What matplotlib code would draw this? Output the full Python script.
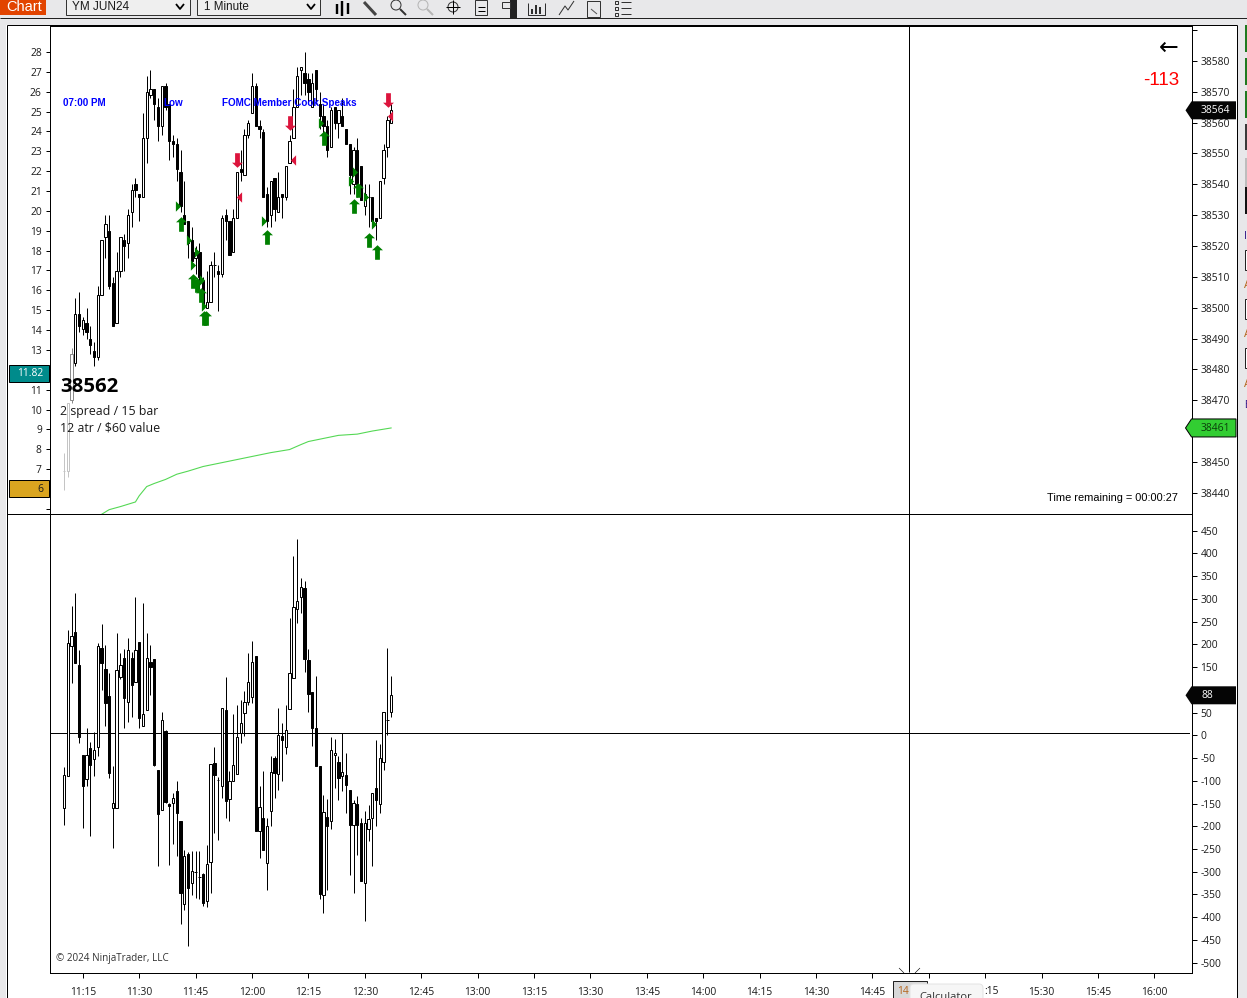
import numpy as np
import matplotlib
matplotlib.use('Agg')
import matplotlib.pyplot as plt
from matplotlib.path import Path
from matplotlib.patches import Rectangle, Polygon, Circle, FancyBboxPatch

W, H = 1247, 998
BASE = 38000

# price bars (last three digits, BASE added below)
price_high = [453,469,487,503,505,497,500,494,489,507,522,530,530,510,518,523,524,532,540,542,537,563,575,577,571,568,572,573,566,556,555,551,541,528,526,520,521,510,512,515,518,514,530,532,528,532,544,551,558,561,576,573,561,558,539,541,542,544,537,546,556,571,578,578,583,576,576,577,570,566,561,565,565,564,568,558,553,552,555,546,540,540,536,529,541,553,562,566]
price_top = [447,469,485,498,498,496,495,490,486,504,522,527,525,508,512,523,522,530,538,540,537,555,570,571,571,565,572,572,566,554,553,544,530,528,522,518,518,509,502,514,514,512,529,530,528,529,544,545,556,560,572,572,559,557,537,541,542,536,537,546,554,565,575,578,576,574,573,577,566,562,559,564,565,564,562,558,553,551,551,546,537,536,536,529,541,551,561,564]
price_bot = [447,447,470,482,494,493,492,488,484,484,504,523,507,494,495,512,520,521,531,538,536,536,555,569,566,559,559,565,554,553,545,533,527,521,515,516,510,501,500,502,514,511,511,528,517,518,529,544,543,556,563,559,558,536,528,530,532,531,536,536,547,555,565,577,573,570,565,571,562,559,551,552,560,560,559,553,543,540,540,535,533,536,528,528,529,542,552,560]
price_low = [441,445,469,481,492,491,490,485,481,483,504,516,506,494,495,510,512,516,526,536,528,536,547,568,561,554,556,564,548,549,541,531,527,516,513,511,506,500,500,502,510,499,510,522,517,518,529,541,543,555,563,559,555,536,526,526,528,531,529,535,547,555,565,569,569,566,565,566,558,556,549,552,558,555,559,553,537,537,536,535,530,526,528,522,529,540,549,560]
price_up = [1,1,1,1,0,1,0,0,0,1,1,1,0,0,1,1,0,1,1,0,0,1,1,1,0,0,1,0,0,0,0,0,0,0,0,1,0,0,1,1,1,0,1,0,0,1,1,0,1,1,1,0,0,0,0,1,0,1,0,1,1,1,1,1,0,0,1,0,0,0,0,1,0,1,0,0,0,1,0,0,1,1,0,0,1,1,1,1]

# lower pane bars
delta_high = [-74,228,281,308,184,-47,12,-18,4,198,241,195,133,-72,221,177,185,210,180,300,201,287,221,195,163,-80,47,8,-153,-131,-105,-192,-256,-261,-259,-259,-259,-306,-245,-67,-30,-96,56,125,-83,43,63,74,94,177,204,171,-116,-82,-186,-49,-49,57,23,63,253,390,428,341,335,185,92,127,-71,-135,-144,-7,-12,-50,0,-43,-124,-146,-137,-186,-171,-157,-131,-15,-23,47,187,127]
delta_top = [-91,198,215,223,151,-47,-47,-32,-36,193,188,141,83,-153,140,151,166,184,166,184,201,42,166,157,163,-80,30,6,-154,-142,-127,-192,-269,-264,-302,-305,-316,-308,-287,-67,-65,-103,56,52,-104,-70,-8,24,69,114,157,171,-162,-186,-203,-85,-54,-3,-5,8,134,278,291,322,319,162,91,12,-71,-173,-184,-36,-43,-62,-85,-91,-124,-153,-154,-197,-197,-188,-131,-120,-54,47,29,84]
delta_bot = [-163,-94,193,156,-8,-116,-100,-70,-56,-29,156,68,-87,-164,-164,125,79,69,106,114,34,17,52,146,-69,-177,-169,-151,-160,-153,-174,-350,-375,-340,-328,-305,-316,-372,-369,-283,-92,-103,-116,-149,-144,-105,-89,2,45,69,80,-215,-215,-257,-285,-171,-86,-89,-15,-30,54,123,273,301,163,86,13,-72,-353,-356,-204,-193,-48,-97,-94,-114,-202,-202,-202,-325,-329,-209,-186,-147,-155,-63,29,47]
delta_low = [-201,-94,112,156,-21,-208,-116,-226,-93,-49,95,17,-98,-252,-164,120,13,26,37,114,12,17,52,84,-72,-292,-169,-153,-289,-243,-270,-419,-389,-467,-355,-362,-364,-380,-382,-350,-218,-234,-141,-185,-193,-105,-89,-21,-6,62,68,-215,-274,-257,-344,-204,-141,-124,-105,-45,54,123,242,264,136,48,-27,-72,-364,-394,-345,-209,-120,-146,-127,-175,-312,-350,-267,-325,-413,-237,-292,-203,-175,-81,-4,37]
delta_up = [1,1,1,0,0,0,1,0,1,1,0,0,0,1,1,1,0,1,0,1,0,1,1,0,0,0,1,0,0,1,0,0,1,0,1,1,1,0,1,1,0,1,1,0,1,1,1,1,1,1,1,0,1,0,1,1,0,1,0,1,1,1,1,1,0,0,0,0,0,1,0,1,1,0,1,0,0,1,0,0,1,1,1,0,1,1,1,1]

# green moving line on the price pane
line_idx = [10,12,15,19,20,22,24,27,30,33,37,43,47,51,55,60,63,65,69,73,78,82,87]
line_val = [433,434.5,435.5,437,439,442,443,444.3,446,447,448.5,450,451,452,453,454,455.6,456.6,457.6,458.6,459,460,461]

# signal markers: bar position, price
up_arrow_idx = [31.1,34.4,35.3,36.4,37.2,37.8,54,69.1,77.1,78.2,81,83.2]
up_arrow_val = [527,508.5,507.5,504,496.5,496.5,523,555,533,538,522,518]
down_arrow_idx = [46,60,86.2]
down_arrow_val = [548,560,567.5]
right_tri_idx = [30.3,33.2,35.4,34.3,36.6,37.2,53.3,68.4,76.3,77.4,80.3,82.4]
right_tri_val = [533,522,518,514,509,500.4,528,560,541,544,536,527]
left_tri_idx = [46.6,60.8,86.7]
left_tri_val = [536,548,562]

# axis labels
price_ticks = [38590,38580,38570,38560,38550,38540,38530,38520,38510,38500,38490,38480,38470,38460,38450,38440]
price_tick_labels = ['','38580','38570','38560','38550','38540','38530','38520','38510','38500','38490','38480','38470','','38450','38440']
left_ticks = [28,27,26,25,24,23,22,21,20,19,18,17,16,15,14,13,12,11,10,9,8,7,6,5]
left_tick_labels = ['28','27','26','25','24','23','22','21','20','19','18','17','16','15','14','13','','11','10','9','8','7','','']
delta_ticks = [450,400,350,300,250,200,150,100,50,0,-50,-100,-150,-200,-250,-300,-350,-400,-450,-500]
delta_tick_labels = ['450','400','350','300','250','200','150','','50','0','-50','-100','-150','-200','-250','-300','-350','-400','-450','-500']
# 15:00 and most of 15:15 sit under the tooltip
time_labels = ['11:15','11:30','11:45','12:00','12:15','12:30','12:45','13:00','13:15','13:30','13:45','14:00','14:15','14:30','14:45','','','15:30','15:45','16:00']
time_ticks = [5 + 15 * n for n in range(len(time_labels))]

price_last = 38564
line_last = 38461
delta_last = 88
left_teal = 11.82
left_gold = 6

UI = 'Open Sans'
ARIAL = 'Liberation Sans'
TXT = '#1a1a1a'
GREY = '#e8e8ea'
PX = 0.72  # one screen pixel in points


def ax_rect(x0, y0, x1, y1):
    return [x0 / W, 1 - y1 / H, (x1 - x0) / W, (y1 - y0) / H]


def draw_candles(ax, high, top, bot, low, up, colors=None):
    idx = np.arange(len(high))
    high, top, bot, low = map(np.array, (high, top, bot, low))
    up = np.array(up, dtype=bool)
    if colors is None:
        colors = ['black'] * len(high)
    colors = np.array(colors)
    ax.vlines(idx, low, high, colors=colors, lw=1.0 * PX, zorder=2)
    ax.bar(idx[up], (top - bot)[up], bottom=bot[up], width=0.62, facecolor='white',
           edgecolor=colors[up], lw=1.0 * PX, zorder=3)
    ax.bar(idx[~up], (top - bot)[~up], bottom=bot[~up], width=0.62, facecolor='black',
           edgecolor=colors[~up], lw=1.0 * PX, zorder=3)


plt.rcParams['font.family'] = [UI, 'DejaVu Sans']
fig = plt.figure(figsize=(W / 100, H / 100), dpi=100, facecolor='white')

# price pane
ax1 = fig.add_axes(ax_rect(50, 25.5, 1192, 514))
ax1.set_xlim(-3.72, 300)
ax1.set_ylim(38433.1, 38591.5)
p_high = BASE + np.array(price_high)
p_top = BASE + np.array(price_top)
p_bot = BASE + np.array(price_bot)
p_low = BASE + np.array(price_low)
bar_colors = ['#c4c4c4', '#c4c4c4', '#8a8a8a'] + ['black'] * (len(price_high) - 3)
draw_candles(ax1, p_high, p_top, p_bot, p_low, price_up, bar_colors)
ax1.plot(line_idx, BASE + np.array(line_val), color='#54d854', lw=1.1 * PX, zorder=2)

arrow_up = Path([(0, 1), (0.75, 0.3), (0.33, 0.3), (0.33, -1), (-0.33, -1), (-0.33, 0.3), (-0.75, 0.3), (0, 1)], closed=True)
arrow_down = Path([(0, -1), (0.75, -0.3), (0.33, -0.3), (0.33, 1), (-0.33, 1), (-0.33, -0.3), (-0.75, -0.3), (0, -1)], closed=True)
tri_right = Path([(-0.5, 1), (0.5, 0), (-0.5, -1), (-0.5, 1)], closed=True)
tri_left = Path([(0.5, 1), (-0.5, 0), (0.5, -1), (0.5, 1)], closed=True)
ax1.plot(up_arrow_idx, BASE + np.array(up_arrow_val), ls='', marker=arrow_up, ms=10.5, mfc='#008000', mec='none', zorder=5)
ax1.plot(down_arrow_idx, BASE + np.array(down_arrow_val), ls='', marker=arrow_down, ms=10.5, mfc='#dc143c', mec='none', zorder=5)
ax1.plot(right_tri_idx, BASE + np.array(right_tri_val), ls='', marker=tri_right, ms=7.5, mfc='#008000', mec='none', zorder=5)
ax1.plot(left_tri_idx, BASE + np.array(left_tri_val), ls='', marker=tri_left, ms=7.5, mfc='#dc143c', mec='none', zorder=5)

# left scale shares the price pane
ax1l = ax1.twinx()
ax1l.set_ylim(4.74, 29.33)
ax1l.yaxis.tick_left()
ax1l.set_yticks(left_ticks, left_tick_labels)
ax1l.tick_params(axis='y', length=4 * PX, width=PX, pad=3, labelsize=7.4, labelcolor=TXT)

# twinx moved the ticks, so set the right side after it
ax1.yaxis.tick_right()
ax1.set_yticks(price_ticks, price_tick_labels)
ax1.set_xticks([])
ax1.tick_params(axis='y', length=5 * PX, width=PX, pad=2.4, labelsize=7.4, labelcolor=TXT)

# lower pane
ax2 = fig.add_axes(ax_rect(50, 514, 1192, 972.5))
ax2.set_xlim(-3.72, 300)
ax2.set_ylim(-521.6, 486.7)
d_high = np.array(delta_high) + 4
d_top = np.array(delta_top) + 4
d_bot = np.array(delta_bot) + 4
d_low = np.array(delta_low) + 4
draw_candles(ax2, d_high, d_top, d_bot, d_low, delta_up)
ax2.plot([-3.72, 299.3], [4, 4], color='black', lw=PX, zorder=1)
ax2.yaxis.tick_right()
ax2.set_yticks(delta_ticks, delta_tick_labels)
ax2.set_xticks(time_ticks, time_labels)
ax2.tick_params(axis='y', length=5 * PX, width=PX, pad=2.4, labelsize=7.4, labelcolor=TXT)
ax2.tick_params(axis='x', length=5 * PX, width=PX, pad=7, labelsize=7.4, labelcolor=TXT)

for a in (ax1, ax1l, ax2):
    for s in a.spines.values():
        s.set_linewidth(PX)
        s.set_color('black')
ax1.spines['bottom'].set_visible(False)
ax1l.spines['bottom'].set_visible(False)
ax2.spines['top'].set_visible(False)

# overlay in screen pixels for the window chrome and captions
ov = fig.add_axes([0, 0, 1, 1], facecolor='none', zorder=10)
ov.set_xlim(0, W)
ov.set_ylim(H, 0)
ov.axis('off')


def y_of(ax, value):
    return H - ax.transData.transform((0, value))[1] * H / fig.bbox.height


def rect(x0, y0, x1, y1, fc, ec='none', lw=PX, z=1):
    ov.add_patch(Rectangle((x0, y0), x1 - x0, y1 - y0, facecolor=fc, edgecolor=ec, lw=lw, zorder=z))


def seg(xs, ys, color='black', lw=PX, z=4):
    ov.plot(xs, ys, color=color, lw=lw, solid_capstyle='butt', zorder=z)


def tag(y, text, fc, tc, ec='none'):
    ov.add_patch(Polygon([(1185.5, y), (1191.5, y - 9), (1236, y - 9), (1236, y + 9), (1191.5, y + 9)],
                         closed=True, facecolor=fc, edgecolor=ec, lw=PX, zorder=3))
    ov.text(1201, y + 0.5, text, color=tc, fontsize=7.4, ha='left', va='center', zorder=4)


# window background around the chart
rect(0, 0, 6, H, GREY)
rect(1237, 0, W, H, GREY)
rect(0, 0, W, 25, GREY)
seg([0, W], [18, 18], '#222222')
seg([6.5, 6.5], [25, H])
seg([1237, 1237], [25, H])
seg([6.5, 1237], [25, 25])
seg([6.5, 1192], [514, 514])
seg([909, 909], [25.5, 972])
seg([899, 904], [968, 973], lw=0.6 * PX)
seg([920, 915], [968, 973], lw=0.6 * PX)

# toolbar
rect(0, 0, 46, 15, '#e24400')
ov.text(24, 7, 'Chart', color='white', family=ARIAL, fontsize=10.5, ha='center', va='center', zorder=4)
rect(66, -3, 190, 15, '#efefef', '#333333')
rect(197, -3, 320, 15, '#efefef', '#333333')
ov.text(72, 7, 'YM JUN24', color=TXT, family=ARIAL, fontsize=8.5, va='center', zorder=4)
ov.text(204, 7, '1 Minute', color=TXT, family=ARIAL, fontsize=8.4, va='center', zorder=4)
for xc in (180, 311):
    seg([xc - 4, xc, xc + 4], [4, 9, 4], lw=1.8 * PX)
# icons, rough
for xc, y0, y1 in ((337, 4, 14), (342, 1, 16), (348, 3, 14)):
    seg([xc, xc], [y0, y1], lw=2.4 * PX)
seg([364, 376], [2, 15], '#444444', lw=3 * PX)
for xc, col in ((396, '#333333'), (423, '#b5b5b5')):
    ov.add_patch(Circle((xc, 5), 5, facecolor='none', edgecolor=col, lw=PX, zorder=4))
    seg([xc + 4, xc + 10], [9, 15], col, lw=2 * PX)
ov.add_patch(Circle((453, 7), 5, facecolor='none', edgecolor='#333333', lw=PX, zorder=4))
seg([453, 453], [0, 14])
seg([446, 460], [7, 7])
rect(475, 0, 487, 15, 'none', '#333333')
seg([478, 485], [7, 7])
seg([478, 485], [11, 11])
rect(510, 0, 517, 18, '#222222')
rect(502, 2, 510, 8, 'none', '#333333')
for xc, y0 in ((532, 9), (536, 5), (540, 7)):
    seg([xc, xc], [y0, 14], lw=1.6 * PX)
seg([528, 528, 545, 545], [3, 15, 15, 3], lw=0.8 * PX)
seg([559, 565, 568, 574], [15, 6, 10, 1], '#333333')
rect(587, 1, 600, 17, 'none', '#333333')
seg([591, 597], [9, 14], '#555555')
for yy in (2, 8, 14):
    rect(615, yy - 1.5, 618, yy + 1.5, 'none', '#333333')
    seg([621, 631], [yy, yy], '#333333')

# sidebar slivers on the far right
for y0, y1, col in ((25, 52, '#1f7a1f'), (58, 85, '#1f7a1f'), (91, 118, '#1f7a1f'), (124, 150, '#3a3a3a'), (158, 187, '#bdbdbd'), (187, 214, '#111111')):
    rect(1245, y0, W, y1, col, z=2)
for y0 in (250, 299, 348):
    rect(1245, y0, W + 2, y0 + 20, 'white', '#222222', z=2)
ov.text(1244, 236, 'I', color='#3a1d8a', family=ARIAL, fontsize=7.5, va='center', zorder=3)
for yy in (285, 334, 384):
    ov.text(1244, yy, 'A', color='#b5651d', family=ARIAL, fontsize=7.5, va='center', zorder=3, clip_on=True)
ov.text(1244, 405, 'B', color='#3a1d8a', family=ARIAL, fontsize=7.5, va='center', zorder=3, clip_on=True)

# price tags
tag(y_of(ax1, price_last), str(price_last), '#050505', 'white')
tag(y_of(ax1, line_last), str(line_last), '#32cd32', '#0b3d0b', 'black')
tag(y_of(ax2, delta_last), str(delta_last), '#050505', 'white')
y_teal = y_of(ax1l, left_teal)
rect(9, y_teal - 8.5, 49, y_teal + 8.5, '#008b8b', 'black', z=5)
ov.text(30, y_teal + 0.5, str(left_teal), color='white', fontsize=7.4, ha='center', va='center', zorder=6)
y_gold = y_of(ax1l, left_gold)
rect(9, y_gold - 9, 49, y_gold + 8.5, '#daa520', 'black', z=5)
ov.text(40, y_gold + 0.5, str(left_gold), color=TXT, fontsize=7.4, ha='center', va='center', zorder=6)

# captions
for x, label in ((63, '07:00 PM'), (163, 'Low'), (222, 'FOMC Member Cook Speaks')):
    ov.text(x, 102.5, label, color='#0000ff', family=ARIAL, weight='bold', fontsize=7.15, va='center', zorder=6)
ov.text(60, 387, '38562', color='black', weight='bold', fontsize=14.7, va='center', zorder=6)
ov.text(60, 411, '2 spread / 15 bar', color=TXT, fontsize=8.9, va='center', zorder=6)
ov.text(60, 428, '12 atr / $60 value', color=TXT, fontsize=8.9, va='center', zorder=6)
ov.text(1179, 48, '\u2190', color='black', family='DejaVu Sans', fontsize=17, ha='right', va='center', zorder=6)
ov.text(1179, 80, '-113', color='#ff0000', family=ARIAL, fontsize=13.5, ha='right', va='center', zorder=6)
ov.text(1178, 498, 'Time remaining = 00:00:27', color='black', family=ARIAL, fontsize=7.9, ha='right', va='center', zorder=6)
ov.text(56, 958, '\u00a9 2024 NinjaTrader, LLC', color='#333333', fontsize=7.1, va='center', zorder=6)

# crosshair time box and the tooltip on top of it
rect(893, 981, 927, H + 2, '#d8d8d8', '#222222', z=5)
ov.text(897, 992, '14', color='#b5651d', fontsize=7.4, va='center', zorder=6)
ov.add_patch(FancyBboxPatch((910, 984), 73, 30, boxstyle='round,pad=0,rounding_size=4',
                            facecolor='#f6f6f6', edgecolor='#e4e4e4', lw=PX, zorder=7))
ov.text(919, 997, 'Calculator', color='#333333', fontsize=8, va='center', zorder=8)
ov.text(984, 992, ':15', color=TXT, fontsize=7.4, va='center', zorder=6)

fig.savefig('out.png', dpi=100, facecolor='white')
